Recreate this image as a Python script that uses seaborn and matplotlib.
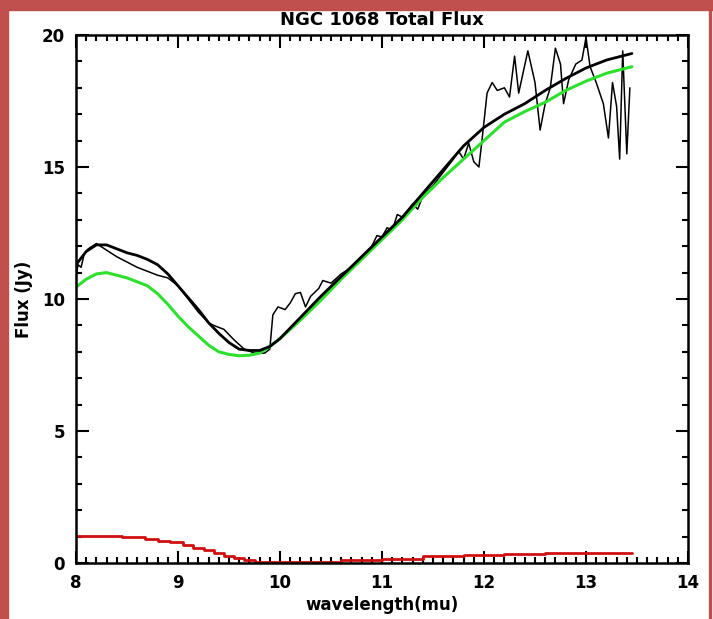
import numpy as np
import pandas as pd
import matplotlib
matplotlib.use("Agg")
import matplotlib.pyplot as plt
import seaborn as sns
from matplotlib.patches import Rectangle
from matplotlib.ticker import MultipleLocator

# observed spectrum (thin black, noisy)
data_wl = [8.0, 8.02, 8.05, 8.08, 8.12, 8.2, 8.3, 8.4, 8.5, 8.6, 8.7, 8.8, 8.9, 9.0,
           9.1, 9.2, 9.3, 9.35, 9.45, 9.55, 9.65, 9.75, 9.85, 9.9, 9.93, 9.98, 10.05,
           10.1, 10.15, 10.2, 10.25, 10.3, 10.38, 10.42, 10.5, 10.6, 10.7, 10.8, 10.9,
           10.95, 11.0, 11.05, 11.1, 11.15, 11.2, 11.3, 11.35, 11.4, 11.5, 11.6, 11.7,
           11.75, 11.8, 11.85, 11.9, 11.95, 11.98, 12.03, 12.08, 12.13, 12.2, 12.25,
           12.3, 12.34, 12.43, 12.5, 12.55, 12.6, 12.65, 12.7, 12.75, 12.78, 12.83,
           12.9, 12.96, 13.0, 13.04, 13.1, 13.17, 13.22, 13.26, 13.3, 13.33, 13.36,
           13.4, 13.43]
data_flux = [10.8, 11.3, 11.2, 11.7, 11.9, 12.1, 11.85, 11.6, 11.4, 11.2, 11.05, 10.9,
             10.8, 10.5, 10.0, 9.5, 9.1, 9.0, 8.85, 8.45, 8.1, 7.95, 7.95, 8.1, 9.4,
             9.7, 9.6, 9.85, 10.2, 10.25, 9.7, 10.1, 10.4, 10.7, 10.6, 10.95, 11.2,
             11.6, 12.0, 12.4, 12.35, 12.7, 12.6, 13.2, 13.1, 13.6, 13.4, 13.9, 14.3,
             14.8, 15.3, 15.6, 15.3, 15.9, 15.2, 15.0, 16.0, 17.8, 18.2, 17.9, 18.0,
             17.65, 19.2, 17.8, 19.4, 18.2, 16.4, 17.4, 18.0, 19.5, 18.9, 17.4, 18.3,
             18.9, 19.05, 19.9, 18.8, 18.2, 17.4, 16.1, 18.2, 17.3, 15.3, 19.4, 15.5,
             18.0]

# smooth model curves
model_wl = [8.0, 8.1, 8.2, 8.3, 8.4, 8.5, 8.6, 8.7, 8.8, 8.9, 9.0, 9.1, 9.2, 9.3, 9.4,
            9.5, 9.6, 9.7, 9.8, 9.9, 10.0, 10.2, 10.4, 10.6, 10.8, 11.0, 11.2, 11.4,
            11.6, 11.8, 12.0, 12.2, 12.4, 12.6, 12.8, 13.0, 13.2, 13.45]
total_flux = [11.3, 11.8, 12.05, 12.05, 11.9, 11.75, 11.65, 11.5, 11.3, 10.95, 10.5,
              10.05, 9.6, 9.1, 8.7, 8.35, 8.1, 8.05, 8.05, 8.2, 8.5, 9.3, 10.1, 10.85,
              11.6, 12.35, 13.1, 14.0, 14.9, 15.8, 16.5, 17.0, 17.4, 17.9, 18.35,
              18.75, 19.05, 19.3]
green_flux = [10.45, 10.75, 10.95, 11.0, 10.9, 10.8, 10.65, 10.5, 10.2, 9.8, 9.35,
              8.95, 8.6, 8.25, 8.0, 7.9, 7.85, 7.87, 7.95, 8.2, 8.5, 9.2, 9.95, 10.75,
              11.5, 12.25, 13.0, 13.85, 14.6, 15.3, 16.0, 16.7, 17.1, 17.45, 17.9,
              18.25, 18.55, 18.8]

# red stepped component near zero
red_wl = [8.0, 8.3, 8.6, 8.75, 8.85, 9.0, 9.1, 9.2, 9.3, 9.4, 9.5, 9.6, 9.7, 9.8,
          10.0, 10.4, 10.8, 11.2, 11.6, 12.0, 12.4, 12.8, 13.2, 13.45]
red_flux = [1.02, 1.02, 0.98, 0.92, 0.85, 0.78, 0.68, 0.58, 0.48, 0.38, 0.28, 0.18,
            0.1, 0.05, 0.04, 0.05, 0.12, 0.17, 0.25, 0.3, 0.33, 0.38, 0.38, 0.38]

sns.set_style("ticks")
plt.rcParams["font.family"] = ["DejaVu Sans"]
plt.rcParams["font.weight"] = "bold"
plt.rcParams["text.color"] = "black"
plt.rcParams["axes.labelcolor"] = "black"
plt.rcParams["xtick.color"] = "black"
plt.rcParams["ytick.color"] = "black"

fig = plt.figure(figsize=(7.13, 6.19), dpi=100)
ax = fig.add_axes([76 / 713, 56 / 619, 612 / 713, 528 / 619])

sns.lineplot(x=red_wl, y=red_flux, ax=ax, color="#d01010", linewidth=2.0,
             drawstyle="steps-mid", estimator=None, sort=False)
sns.lineplot(x=data_wl, y=data_flux, ax=ax, color="black", linewidth=1.1,
             estimator=None, sort=False)
sns.lineplot(x=model_wl, y=green_flux, ax=ax, color="#2ee02e", linewidth=2.2,
             estimator=None, sort=False)
sns.lineplot(x=model_wl, y=total_flux, ax=ax, color="black", linewidth=2.0,
             estimator=None, sort=False)

ax.set_xlim(8, 14)
ax.set_ylim(0, 20)
ax.xaxis.set_major_locator(MultipleLocator(1))
ax.xaxis.set_minor_locator(MultipleLocator(0.1))
ax.yaxis.set_major_locator(MultipleLocator(5))
ax.yaxis.set_minor_locator(MultipleLocator(1))
ax.tick_params(which="both", direction="in", top=True, right=True, width=1.5,
               color="black", labelcolor="black", labelsize=12, pad=8)
ax.tick_params(which="major", length=9)
ax.tick_params(which="minor", length=4)
for s in ax.spines.values():
    s.set_linewidth(1.8)
    s.set_color("black")

ax.set_title("NGC 1068 Total Flux", fontsize=13, fontweight="bold", pad=7)
ax.set_xlabel("wavelength(mu)", fontsize=12, fontweight="bold", labelpad=3)
ax.set_ylabel("Flux (Jy)", fontsize=12, fontweight="bold", labelpad=6)

# red frame of the screenshot
frame = "#c0504d"
fig.patches.append(Rectangle((0, 609 / 619), 1, 10 / 619, transform=fig.transFigure,
                             color=frame, zorder=10))
fig.patches.append(Rectangle((0, 0), 8 / 713, 1, transform=fig.transFigure,
                             color=frame, zorder=10))
fig.patches.append(Rectangle((709 / 713, 0), 2 / 713, 1, transform=fig.transFigure,
                             color=frame, zorder=10))

fig.savefig("out.png", dpi=100)
